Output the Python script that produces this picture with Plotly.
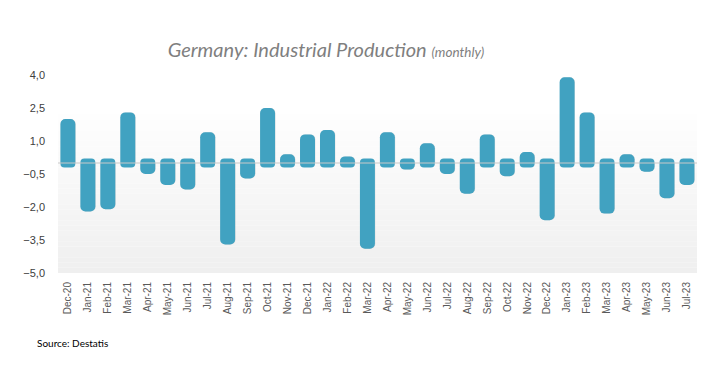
import plotly.graph_objects as go

months = ["Dec-20", "Jan-21", "Feb-21", "Mar-21", "Apr-21", "May-21", "Jun-21", "Jul-21",
          "Aug-21", "Sep-21", "Oct-21", "Nov-21", "Dec-21", "Jan-22", "Feb-22", "Mar-22",
          "Apr-22", "May-22", "Jun-22", "Jul-22", "Aug-22", "Sep-22", "Oct-22", "Nov-22",
          "Dec-22", "Jan-23", "Feb-23", "Mar-23", "Apr-23", "May-23", "Jun-23", "Jul-23"]
change = [2.0, -2.2, -2.1, 2.3, -0.5, -1.0, -1.2, 1.4,
          -3.7, -0.7, 2.5, 0.4, 1.3, 1.5, 0.3, -3.9,
          1.4, -0.3, 0.9, -0.5, -1.4, 1.3, -0.6, 0.5,
          -2.6, 3.9, 2.3, -2.3, 0.4, -0.4, -1.6, -1.0]
y_ticks = [4.0, 2.5, 1.0, -0.5, -2.0, -3.5, -5.0]

BAR = "#41a2c1"
STUB = 0.2  # visual rounded cap beneath the zero line

# the page body has an 8px margin; figure is sized to compensate
W, H = 709, 361

fig = go.Figure()

# gradient plot background (bands)
n_bands = 30
top, bot = 0.8, 0.0
for i in range(n_bands):
    t = i / (n_bands - 1)
    c = int(round(254 - t * 15))
    y1 = top - (top - bot) * i / n_bands
    y0 = top - (top - bot) * (i + 1) / n_bands
    fig.add_shape(type="rect", xref="x domain", yref="y domain", x0=0, x1=1, y0=y0, y1=y1,
                  fillcolor=f"rgb({c},{c},{c})", line_width=0, layer="below")

# shadow
fig.add_trace(go.Bar(x=months, y=change, marker=dict(color="rgba(0,0,0,0.12)", line_width=0,
                     cornerradius=5), offset=-0.36, width=0.75, hoverinfo="skip", showlegend=False))
# caps on the other side of zero
fig.add_trace(go.Bar(x=months, y=[-STUB if v > 0 else STUB for v in change],
                     marker=dict(color=BAR, line_width=0, cornerradius=5),
                     offset=-0.38, width=0.75, hoverinfo="skip", showlegend=False))
fig.add_trace(go.Bar(x=months, y=change, marker=dict(color=BAR, line_width=0, cornerradius=5),
                     offset=-0.38, width=0.75, showlegend=False))

fig.add_shape(type="line", xref="x domain", yref="y", x0=0, x1=1, y0=0, y1=0,
              line=dict(color="#c9c9c9", width=1), layer="above")

fig.update_layout(
    width=W, height=H,
    margin=dict(l=50, r=20, t=67, b=96),
    paper_bgcolor="white", plot_bgcolor="white",
    barmode="overlay",
    separators=", ",
    title=dict(text="Germany: Industrial Production <span style='font-size:13.5px'>(monthly)</span>",
               x=318 / W, xanchor="center", xref="container",
               y=1 - 42 / H, yanchor="middle", yref="container",
               font=dict(family="Lato", size=20, color="#7f7f7f", style="italic")),
    xaxis=dict(showgrid=False, showline=False, ticks="", tickangle=-90,
               tickfont=dict(family="Liberation Sans", size=10, color="#595959"),
               range=[-0.5, len(months) - 0.5], ticklabelstandoff=6, fixedrange=True),
    yaxis=dict(range=[-5.0, 4.0], tickvals=y_ticks, tickformat=".1f", showgrid=False,
               zeroline=False, showline=False, ticks="",
               tickfont=dict(family="Liberation Sans", size=11, color="#404040"),
               ticklabelstandoff=12, fixedrange=True),
    annotations=[dict(text="Source: Destatis", xref="paper", yref="paper", showarrow=False,
                      x=-23 / 639, xanchor="left", y=-(343 - 273) / 198, yanchor="middle",
                      font=dict(family="Lato", size=10, color="#000000"))],
)

fig.write_html("out.html")
